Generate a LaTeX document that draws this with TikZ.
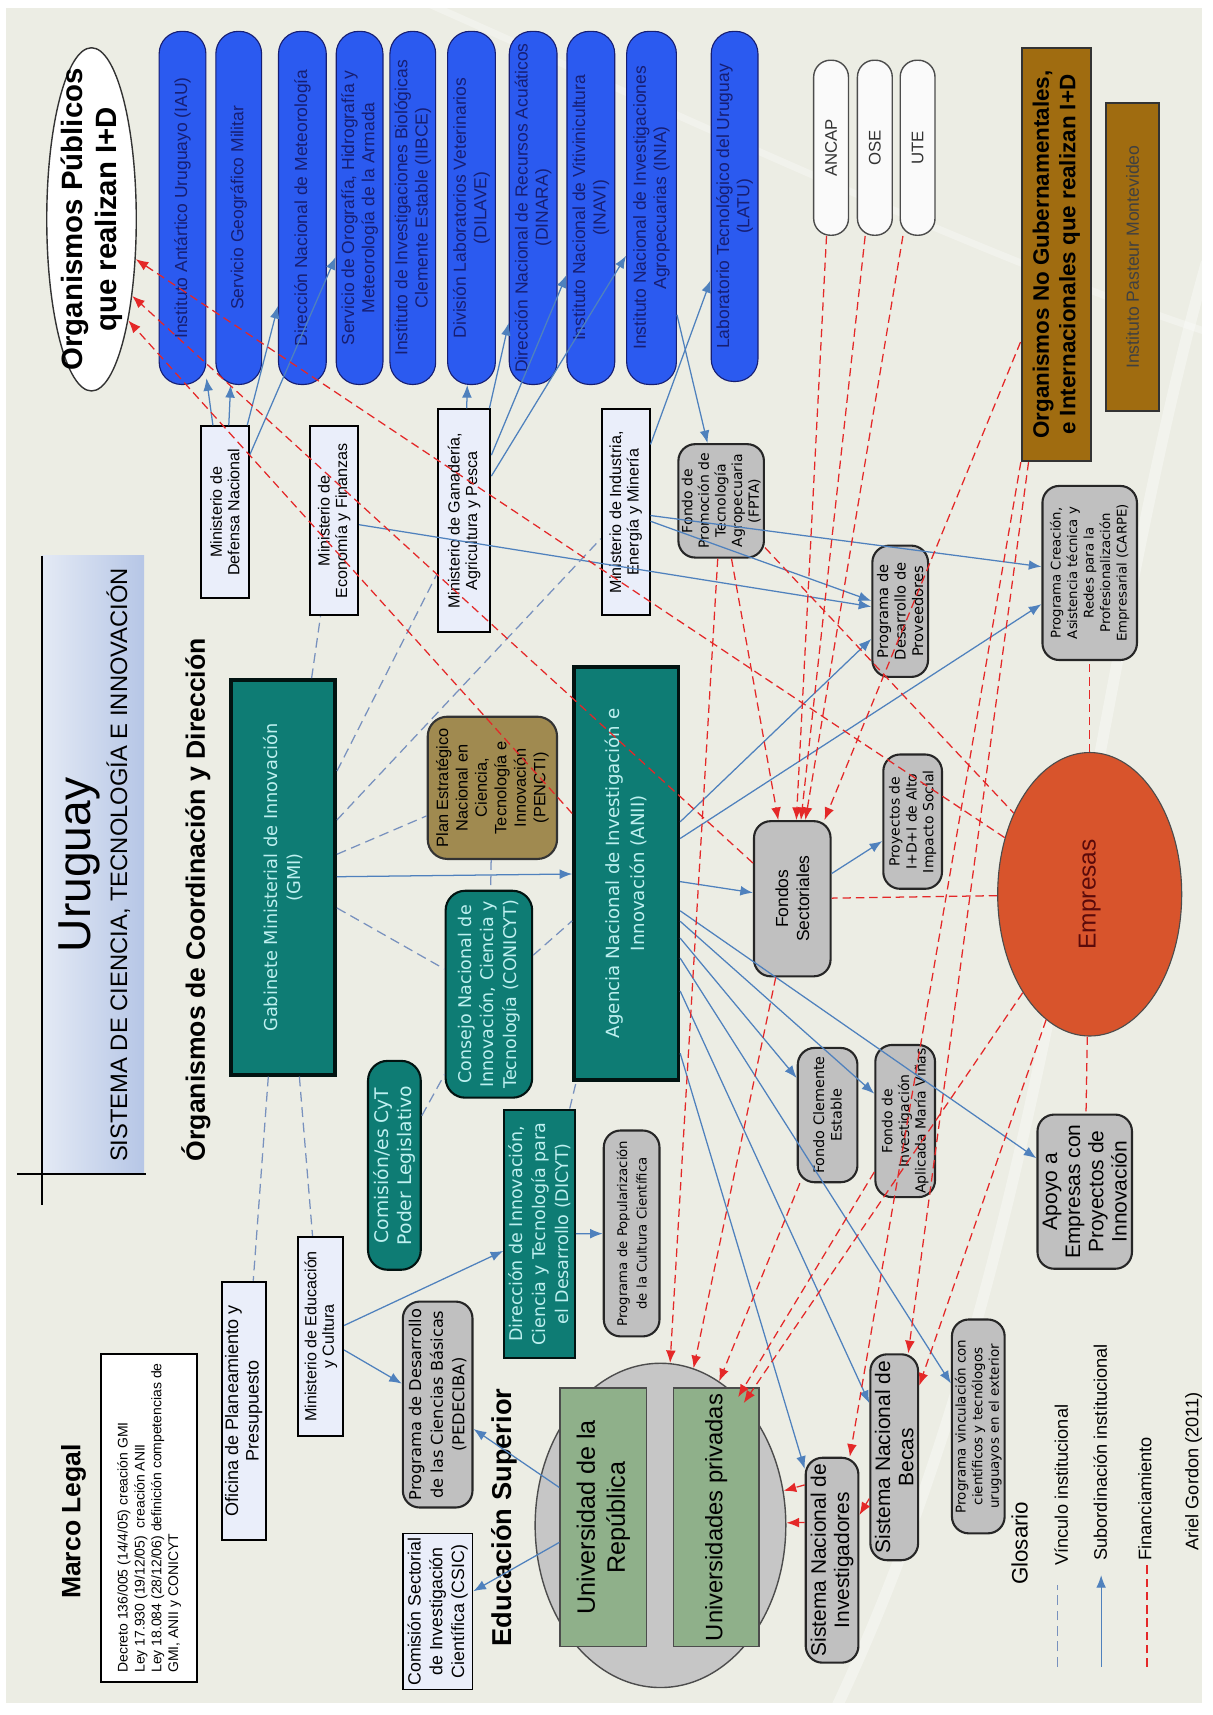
\documentclass[tikz,border=0pt]{standalone}
\usepackage{fontspec}
\setmainfont{Liberation Sans}
\newfontfamily\verd{DejaVu Sans}
\usetikzlibrary{shapes.geometric,arrows.meta}
\newcommand{\fsz}[2]{\fontsize{#1}{#2}\selectfont}
\definecolor{fondo}{RGB}{236,237,228}
\definecolor{azulorg}{RGB}{43,90,240}
\definecolor{azultxt}{RGB}{22,30,115}
\definecolor{verdeazul}{RGB}{14,124,116}
\definecolor{tealtxt}{RGB}{190,240,240}
\definecolor{gris}{RGB}{192,192,192}
\definecolor{celeste}{RGB}{234,238,250}
\definecolor{verdeu}{RGB}{143,176,138}
\definecolor{ocre}{RGB}{160,108,16}
\definecolor{oliva}{RGB}{160,138,80}
\definecolor{naranja}{RGB}{216,84,44}
\definecolor{rojooscuro}{RGB}{90,10,10}
\definecolor{lineasub}{RGB}{79,129,189}
\definecolor{linealink}{RGB}{120,145,190}
\definecolor{lineafin}{RGB}{228,40,40}

\begin{document}
\begin{tikzpicture}[x=0.025cm, y=-0.025cm, >={Latex[length=9pt,width=7pt]},
  every node/.style={rotate=90, inner sep=1pt, align=center},
  sz/.style 2 args={minimum width=#1*0.025cm, minimum height=#2*0.025cm},
  pubbox/.style={draw=azultxt, line width=0.8pt, fill=azulorg, rounded corners=16pt, text=azultxt, font=\fsz{12.5}{14.5}},
  firmbox/.style={draw=black!70, line width=1pt, fill=white!96!gray, rounded corners=12pt, text=black!80, font=\fsz{12}{14}},
  minbox/.style={draw=black, line width=1.4pt, fill=celeste, font=\fsz{11.5}{12.5}},
  tealbox/.style={draw=black!85!verdeazul, line width=2.5pt, fill=verdeazul, text=tealtxt, font=\verd\fsz{12.7}{17}},
  tealround/.style={draw=black!85!verdeazul, line width=1.5pt, fill=verdeazul, text=tealtxt, rounded corners=14pt, font=\verd\fsz{12.5}{16}},
  graybox/.style={draw=black!85, line width=1.5pt, fill=gris, rounded corners=12pt},
  greenbox/.style={draw=black!70, line width=1pt, fill=verdeu, font=\fsz{18}{21.5}},
  ocrebox/.style={draw=black!80, line width=1.5pt, fill=ocre},
  sub/.style={draw=lineasub, line width=0.9pt, ->},
  link/.style={draw=linealink, line width=0.9pt, dash pattern=on 7pt off 4pt},
  fin/.style={draw=lineafin, line width=0.9pt, dash pattern=on 6pt off 3.5pt}]

% fondo
\fill[white] (0,0) rectangle (1213,1715);
\fill[fondo] (6,5) rectangle (1208,1709);
\draw[white, line width=8pt, opacity=.35] (1213,260) .. controls (1090,700) and (1060,1250) .. (840,1715);
\draw[white, line width=5pt, opacity=.3] (430,0) .. controls (700,120) and (1000,260) .. (1213,330);
\useasboundingbox (0,0) rectangle (1213,1715);

% titulo
\shade[left color={rgb,255:red,228;green,234;blue,245}, right color={rgb,255:red,182;green,198;blue,230}] (42,555) rectangle (145,1177);
\draw[line width=1.2pt] (42,555) -- (42,1208);
\draw[line width=1.2pt] (17,1177) -- (147,1177);
\node[font=\fsz{33}{36}] (uruguay) at (80,866) {Uruguay};
\node[font=\fsz{17}{19}] (sistema) at (119,866) {SISTEMA DE CIENCIA, TECNOLOGÍA E INNOVACIÓN};
\node[font=\bfseries\fsz{19}{21}] (coord) at (197,901) {Órganismos de Coordinación y Dirección};

% organismos publicos
\node[ellipse, draw=black!80, line width=1pt, fill=white, sz={345}{90}] (orgpub) at (92,217) {};
\node[font=\bfseries\fsz{21}{24}] (orgpubtxt) at (orgpub) {Organismos Públicos\\que realizan I+D};
\node[pubbox, sz={355}{47}] (iau) at (183.5,205.5) {Instituto Antártico Uruguayo (IAU)};
\node[pubbox, sz={355}{46}] (sgm) at (240,205.5) {Servicio Geográfico Militar};
\node[pubbox, sz={355}{48}] (dnm) at (304,205.5) {Dirección Nacional de Meteorología};
\node[pubbox, sz={355}{47}] (sohma) at (361.5,205.5) {Servicio de Orografía, Hidrografía y\\Meteorología de la Armada};
\node[pubbox, sz={355}{46}] (iibce) at (415,205.5) {Instituto de Investigaciones Biológicas\\Clemente Estable (IIBCE)};
\node[pubbox, sz={355}{48}] (dilave) at (474,205.5) {División Laboratorios Veterinarios\\(DILAVE)};
\node[pubbox, sz={355}{48}] (dinara) at (536,205.5) {Dirección Nacional de Recursos Acuáticos\\(DINARA)};
\node[pubbox, sz={355}{48}] (inavi) at (594,205.5) {Instituto Nacional de Vitivinicultura\\(INAVI)};
\node[pubbox, sz={355}{50}] (inia) at (655,205.5) {Instituto Nacional de Investigaciones\\Agropecuarias (INIA)};
\node[pubbox, sz={352}{47}] (latu) at (738.5,204) {Laboratorio Tecnológico del Uruguay\\(LATU)};

% empresas publicas y no gubernamentales
\node[firmbox, sz={176}{35}] (ancap) at (835.5,145) {ANCAP};
\node[firmbox, sz={176}{35}] (ose) at (879.5,145) {OSE};
\node[firmbox, sz={176}{35}] (ute) at (922.5,145) {UTE};
\node[ocrebox, sz={415}{70}, font=\bfseries\fsz{16}{19}] (nogub) at (1062,252.5) {Organismos No Gubernamentales,\\e Internacionales que realizan I+D};
\node[ocrebox, sz={310}{53}, text=black!75, font=\fsz{12.6}{15}] (pasteur) at (1138.5,255) {Instituto Pasteur Montevideo};

% ministerios
\node[minbox, sz={173}{48}] (mindef) at (226,511.5) {Ministerio de\\Defensa Nacional};
\node[minbox, sz={190}{48}] (minecon) at (336,520) {Ministerio de\\Economía y Finanzas};
\node[minbox, sz={224}{53}] (mingan) at (466.5,520) {Ministerio de Ganadería,\\Agricultura y Pesca};
\node[minbox, sz={207}{48}] (minind) at (629,511.5) {Ministerio de Industria,\\Energía y Minería};
\node[minbox, sz={260}{44}, font=\fsz{12.9}{14.5}] (oficina) at (245,1415) {Oficina de Planeamiento y\\Presupuesto};
\node[minbox, sz={200}{45}] (mineduc) at (322.5,1340) {Ministerio de Educación\\y Cultura};

% coordinacion
\node[tealbox, sz={397}{105}] (gmi) at (284.5,878.5) {Gabinete Ministerial de Innovación\\(GMI)};
\node[tealbox, sz={415}{105}, font=\verd\fsz{13}{18}] (anii) at (629.5,874.5) {Agencia Nacional de Investigación e\\Innovación (ANII)};
\node[tealround, sz={208}{87}] (conicyt) at (491.5,996) {Consejo Nacional de\\Innovación, Ciencia y\\Tecnología (CONICYT)};
\node[tealround, sz={210}{53}, font=\verd\fsz{13.4}{17}] (comision) at (396.5,1168) {Comisión/es CyT\\Poder Legislativo};
\node[tealbox, line width=1.5pt, sz={250}{71}, font=\verd\fsz{12.5}{16.2}] (dicyt) at (542.5,1237) {Dirección de Innovación,\\Ciencia y Tecnología para\\el Desarrollo (DICYT)};
\node[draw=black!80, line width=1.5pt, fill=oliva, rounded corners=14pt, sz={143}{130}, font=\fsz{11.7}{13.9}] (pencti) at (495,788.5) {Plan Estratégico\\Nacional en\\Ciencia,\\Tecnología e\\Innovación\\(PENCTI)};

% programas y fondos
\node[graybox, sz={114}{86}, font=\verd\fsz{10}{11.9}] (fpta) at (725,500) {Fondo de\\Promoción de\\Tecnología\\Agropecuaria\\(FPTA)};
\node[graybox, sz={156}{77}, font=\fsz{12.5}{15}] (fondos) at (796.5,900) {Fondos\\Sectoriales};
\node[graybox, sz={132}{56}, font=\verd\fsz{10.5}{12.5}] (prov) at (905,611) {Programa de\\Desarrollo de\\Proveedores};
\node[graybox, sz={175}{95}, font=\verd\fsz{9.5}{11.8}] (carpe) at (1095.5,572.5) {Programa Creación,\\Asistencia técnica y\\Redes para la\\Profesionalización\\Empresarial (CARPE)};
\node[graybox, sz={135}{59}, font=\verd\fsz{10}{12}] (idi) at (917.5,822.5) {Proyectos de\\I+D+I de Alto\\Impacto Social};
\node[graybox, sz={135}{60}, font=\verd\fsz{10.3}{12.5}] (clemente) at (832,1117.5) {Fondo Clemente\\Estable};
\node[graybox, sz={153}{60}, font=\verd\fsz{10}{11.9}] (vinas) at (910,1123.5) {Fondo de\\Investigación\\Aplicada María Viñas};
\node[graybox, sz={155}{95}, font=\fsz{15}{16.6}] (apoyo) at (1090.5,1194.5) {Apoyo a\\Empresas con\\Proyectos de\\Innovación};
\node[graybox, sz={207}{56}, font=\verd\fsz{9.5}{14}] (popular) at (635,1236.5) {Programa de Popularización\\de la Cultura Científica};
\node[graybox, sz={207}{70}, font=\verd\fsz{11.6}{15.4}] (pedeciba) at (440,1408.5) {Programa de Desarrollo\\de las Ciencias Básicas\\(PEDECIBA)};
\node[graybox, sz={206}{53}, font=\fsz{15}{16.6}] (sni) at (836.5,1565) {Sistema Nacional de\\Investigadores};
\node[graybox, sz={207}{48}, font=\fsz{15}{16.6}] (becas) at (899,1461.5) {Sistema Nacional de\\Becas};
\node[graybox, sz={215}{53}, font=\verd\fsz{9.6}{11.9}] (vinc) at (983.5,1430.5) {Programa vinculación con\\científicos y tecnólogos\\uruguayos en el exterior};
\node[ellipse, draw=black!70, line width=0.8pt, fill=naranja, sz={285}{185}, text=rojooscuro, font=\fsz{17.5}{20}] (empresas) at (1095.5,895.5) {Empresas};

% educacion superior
\node[ellipse, draw=black!70, line width=1pt, fill=gris!90!white, sz={326}{252}] (edu) at (664,1530) {};
\node[greenbox, sz={260}{87}] (udelar) at (606.5,1522) {Universidad de la\\República};
\node[greenbox, sz={260}{86}, font=\fsz{17}{20}] (privadas) at (720,1522) {Universidades privadas};
\node[minbox, line width=1.2pt, sz={157}{70}, font=\fsz{12.7}{15.6}] (csic) at (440,1616.5) {Comisión Sectorial\\de Investigación\\Científica (CSIC)};
\node[font=\bfseries\fsz{19.5}{22}] (edulbl) at (507,1522) {Educación Superior};

% marco legal
\node[font=\bfseries\fsz{19}{22}] (marco) at (74,1526) {Marco Legal};
\node[draw=black, line width=1.4pt, fill=white, sz={329}{96}, align=left, font=\fsz{10}{12}] (decretos) at (150,1522.5) {Decreto 136/005 (14/4/05) creación GMI\\Ley 17.930 (19/12/05)\ \ creación ANII\\Ley 18.084 (28/12/06) definición competencias de\\GMI, ANII y CONICYT};

% subordinacion
\draw[sub] (mindef) -- (iau.188);
\draw[sub] (mindef) -- (sgm);
\draw[sub] (mindef) -- (dnm.166);
\draw[sub] (mindef) -- (sohma.154);
\draw[sub] (mingan) -- (dilave);
\draw[sub] (mingan) -- (dinara.168);
\draw[sub] (mingan) -- (inavi.160);
\draw[sub] (mingan) -- (inia.152);
\draw[sub] (minind) -- (latu.162);
\draw[sub] (inia) -- (fpta);
\draw[sub] (minecon) -- (prov);
\draw[sub] (minind) -- (prov);
\draw[sub] (minind) -- (carpe);
\draw[sub] (gmi) -- (anii);
\draw[sub] (mineduc) -- (dicyt);
\draw[sub] (mineduc) -- (pedeciba);
\draw[sub] (dicyt) -- (popular);
\draw[sub] (udelar) -- (csic);
\draw[sub] (udelar) -- (pedeciba);
\draw[sub] (fondos) -- (idi);
\draw[sub] (anii) -- (fondos);
\draw[sub] (anii) -- (prov);
\draw[sub] (anii) -- (carpe);
\draw[sub] (anii) -- (clemente);
\draw[sub] (anii) -- (vinas);
\draw[sub] (anii) -- (apoyo);
\draw[sub] (anii) -- (sni);
\draw[sub] (anii) -- (becas);
\draw[sub] (anii) -- (vinc);

% vinculo
\draw[link] (gmi) -- (minecon);
\draw[link] (gmi) -- (oficina);
\draw[link] (gmi) -- (mineduc);
\draw[link] (gmi) -- (conicyt);
\draw[link] (gmi) -- (mingan);
\draw[link] (gmi) -- (minind);
\draw[link] (gmi) -- (pencti);
\draw[link] (pencti) -- (conicyt);
\draw[link] (conicyt) -- (anii);
\draw[link] (comision) -- (conicyt);
\draw[link] (dicyt) -- (anii);

% financiamiento
\draw[fin,->] (empresas) -- (orgpub.228);
\draw[fin,->] (fondos) -- (orgpub.208);
\draw[fin,->] (anii) -- (orgpub.200);
\draw[fin,->] (fpta) -- (fondos);
\draw[fin,->] (ancap) -- (fondos);
\draw[fin,->] (ose) -- (fondos);
\draw[fin,->] (ute) -- (fondos);
\draw[fin,->] (nogub) -- (fondos);
\draw[fin,->] (fpta) -- (edu);
\draw[fin,->] (fondos) -- (edu);
\draw[fin,->] (clemente) -- (edu);
\draw[fin,->] (vinas) -- (edu);
\draw[fin,->] (empresas) -- (edu);
\draw[fin,->] (sni.20) -- (edu);
\draw[fin,->] (sni.36) -- (edu);
\draw[fin,->] (becas) -- (sni);
\draw[fin,->] (nogub) -- (becas);
\draw[fin,->] (nogub) -- (sni);
\draw[fin,->] (empresas) -- (becas);
\draw[fin] (empresas) -- (fondos);
\draw[fin] (empresas) -- (carpe);
\draw[fin] (empresas) -- (apoyo);
\draw[fin] (fpta) -- (empresas);

% glosario
\node[font=\fsz{16}{18}] (glosario) at (1025,1548) {Glosario};
\coordinate (lv1) at (1063,1672);
\coordinate (lv2) at (1063,1590);
\draw[link] (lv1) -- (lv2);
\node[anchor=west, font=\fsz{13}{15}] (legv) at (1067,1572) {Vínculo institucional};
\coordinate (ls1) at (1107,1672);
\coordinate (ls2) at (1107,1580);
\draw[sub] (ls1) -- (ls2);
\node[anchor=west, font=\fsz{13}{15}] (legs) at (1106,1567) {Subordinación institucional};
\coordinate (lf1) at (1153,1672);
\coordinate (lf2) at (1153,1567);
\draw[fin] (lf1) -- (lf2);
\node[anchor=west, font=\fsz{13}{15}] (legf) at (1151,1567) {Financiamiento};
\node[anchor=west, font=\fsz{13}{15}] (autor) at (1200,1557) {Ariel Gordon (2011)};
\end{tikzpicture}
\end{document}
